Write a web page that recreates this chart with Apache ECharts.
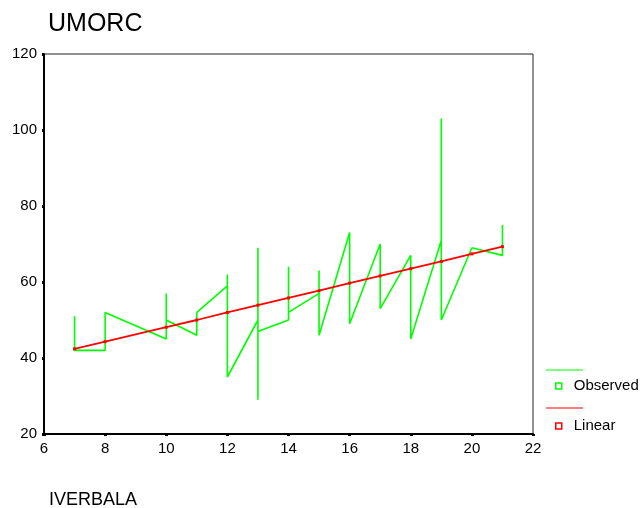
<!DOCTYPE html>
<html>
<head>
<meta charset="utf-8">
<script src="https://cdn.jsdelivr.net/npm/echarts@6/dist/echarts.min.js"></script>
<style>html,body{margin:0;padding:0;background:#fff;}#c{width:641px;height:508px;}</style>
</head>
<body>
<div id="c"></div>
<script>
// Observed points in data order (x = IVERBALA, y = UMORC)
const obsX = [7, 7, 8, 8, 10, 10, 10, 11, 11, 12, 12, 12, 13, 13, 13, 13, 14, 14, 14, 15, 15, 15, 16, 16, 17, 17, 18, 18, 19, 19, 19, 20, 21, 21];
const obsY = [51, 42, 42, 52, 45, 57, 50, 46, 52, 59, 62, 35, 50, 69, 29, 47, 50, 64, 52, 57, 63, 46, 73, 49, 70, 53, 67, 45, 71, 103, 50, 69, 67, 75];
// Linear fit values read at each distinct x
const fitX = [7, 8, 10, 11, 12, 13, 14, 15, 16, 17, 18, 19, 20, 21];
const fitY = [42.4, 44.3, 48.1, 50.0, 52.0, 53.9, 55.8, 57.7, 59.7, 61.6, 63.5, 65.4, 67.4, 69.3];
const xTicks = [6, 8, 10, 12, 14, 16, 18, 20, 22];
const yTicks = [20, 40, 60, 80, 100, 120];
const seriesNames = ['Observed', 'Linear'];
const titleText = 'UMORC';
const xName = 'IVERBALA';

const FONT = '"Liberation Sans", Arial, sans-serif';
const GREEN = '#00ff00';
const RED = '#ff0000';

const chart = echarts.init(document.getElementById('c'), null, {renderer: 'canvas'});
chart.setOption({
  animation: false,
  backgroundColor: '#fff',
  title: [
    {text: titleText, left: 43, top: 7, textStyle: {fontFamily: FONT, fontSize: 25, fontWeight: 'normal', color: '#000'}},
    {text: xName, left: 44, top: 486, textStyle: {fontFamily: FONT, fontSize: 18, fontWeight: 'normal', color: '#000'}}
  ],
  grid: {left: 44, right: 108, top: 54, bottom: 74, show: true, borderColor: '#222', borderWidth: 1, containLabel: false},
  xAxis: {
    type: 'value', min: xTicks[0], max: xTicks[xTicks.length - 1], interval: 2,
    axisLine: {show: true, lineStyle: {color: '#000', width: 2}},
    axisTick: {show: true, length: 2, lineStyle: {color: '#000', width: 3}},
    axisLabel: {color: '#000', fontFamily: FONT, fontSize: 15, margin: 7},
    splitLine: {show: false}
  },
  yAxis: {
    type: 'value', min: yTicks[0], max: yTicks[yTicks.length - 1], interval: 20,
    axisLine: {show: true, lineStyle: {color: '#000', width: 2}},
    axisTick: {show: true, length: 2, lineStyle: {color: '#000', width: 3}},
    axisLabel: {color: '#000', fontFamily: FONT, fontSize: 15, margin: 7},
    splitLine: {show: false}
  },
  legend: {
    orient: 'vertical', left: 550, top: 373,
    itemWidth: 6, itemHeight: 6, itemGap: 24, icon: 'rect',
    textStyle: {fontFamily: FONT, fontSize: 15, color: '#000', lineHeight: 16, padding: [0, 0, 0, 7]},
    data: [
      {name: seriesNames[0], itemStyle: {color: '#fff', borderColor: GREEN, borderWidth: 1.5}},
      {name: seriesNames[1], itemStyle: {color: '#fff', borderColor: RED, borderWidth: 1.5}}
    ]
  },
  graphic: [
    {type: 'line', shape: {x1: 546, y1: 370, x2: 583, y2: 370}, style: {stroke: GREEN, lineWidth: 1.2}},
    {type: 'line', shape: {x1: 546, y1: 408, x2: 583, y2: 408}, style: {stroke: RED, lineWidth: 1.2}}
  ],
  series: [
    {
      name: seriesNames[0], type: 'line', data: obsX.map((x, i) => [x, obsY[i]]),
      showSymbol: false, symbol: 'none', lineStyle: {color: GREEN, width: 1.6}, itemStyle: {color: GREEN}, z: 2
    },
    {
      name: seriesNames[1], type: 'line', data: fitX.map((x, i) => [x, fitY[i]]),
      symbol: 'rect', symbolSize: 3, lineStyle: {color: RED, width: 1.8}, itemStyle: {color: RED}, z: 3
    }
  ]
});
</script>
</body>
</html>
